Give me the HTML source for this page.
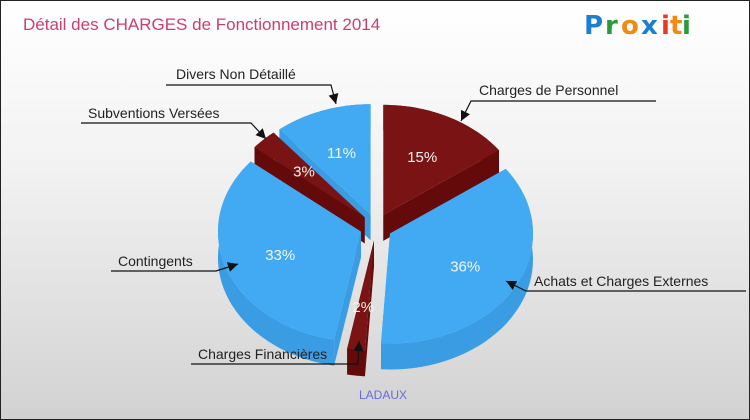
<!DOCTYPE html>
<html><head><meta charset="utf-8"><style>
body{margin:0;}
#c{width:748px;height:418px;border:1px solid #222;position:relative;background:linear-gradient(#ffffff,#f2f2f2 40%,#d2d2d2);overflow:hidden;font-family:"Liberation Sans",sans-serif;}
svg{position:absolute;left:0;top:0;}
</style></head><body>
<div id="c">
<svg id="s" width="748" height="418">
<text x="22" y="29" font-size="17" fill="#cc3d72">Détail des CHARGES de Fonctionnement 2014</text>
<g font-size="26" font-weight="bold" font-family="'DejaVu Sans',sans-serif">
<text x="583" y="33" fill="#1e7fd0">P</text><text x="604" y="33" fill="#2a9a3a">r</text><text x="620" y="33" fill="#f08a10">o</text><text x="640" y="33" fill="#1e7fd0">x</text><text x="660" y="33" fill="#e83a20">i</text><text x="669" y="33" fill="#f08a10">t</text><text x="681" y="33" fill="#2a9a3a">i</text>
</g>
<text x="382" y="398" font-size="12" fill="#6a6ae0" text-anchor="middle">LADAUX</text>
<g id="pie"></g>
<g id="lab" font-size="14" fill="#222"></g>
</svg>
</div>
<script>
const categories=["Charges de Personnel","Achats et Charges Externes","Charges Financières","Contingents","Subventions Versées","Divers Non Détaillé"];
const values=[15,36,2,33,3,11];
const colorsTop=["#7a1414","#42aaf2","#7a1414","#42aaf2","#7a1414","#42aaf2"];
const colorsSide=["#650a0a","#3a9ce2","#650a0a","#3a9ce2","#650a0a","#3a9ce2"];
const cx=375,cy=226,rx=143,ry=110,depth=26,ex=16;
const NS="http://www.w3.org/2000/svg";
const pie=document.getElementById('pie');
const total=values.reduce((a,b)=>a+b,0);
let a=-Math.PI/2;
const sl=values.map((v,i)=>{const a1=a,a2=a+v/total*2*Math.PI;a=a2;const m=(a1+a2)/2;return{i,a1,a2,m,ox:cx+ex*Math.cos(m),oy:cy+ex*Math.sin(m)*0.85};});
function pt(s,t,dy){return[s.ox+rx*Math.cos(t),s.oy+ry*Math.sin(t)+dy];}
function arc(s,t1,t2,dy){let d='';const n=40;for(let k=0;k<=n;k++){const t=t1+(t2-t1)*k/n;const p=pt(s,t,dy);d+=(k?'L':'')+p[0].toFixed(1)+','+p[1].toFixed(1)+' ';}return d;}
function mk(d,fill,name){const p=document.createElementNS(NS,'path');p.setAttribute('d',d);p.setAttribute('fill',fill);


pie.appendChild(p);}
const order=[...sl].sort((p,q)=>Math.sin(p.m)-Math.sin(q.m));
order.forEach(s=>{
 const c=colorsSide[s.i];
 [s.a1,s.a2].forEach(t=>{const p=pt(s,t,0);mk(`M${s.ox},${s.oy} L${p[0]},${p[1]} L${p[0]},${p[1]+depth} L${s.ox},${s.oy+depth}Z`,c,'slice-side');});
 mk('M'+arc(s,s.a1,s.a2,0)+'L'+arc(s,s.a2,s.a1,depth)+'Z',c,'slice-wall');
 mk(`M${s.ox},${s.oy} L`+arc(s,s.a1,s.a2,0)+'Z',colorsTop[s.i],'slice-'+categories[s.i].toLowerCase().replace(/[^a-z]+/g,'-'));
});
sl.forEach(s=>{const r=0.6;const t=document.createElementNS(NS,'text');
 const x=s.ox+rx*r*Math.cos(s.m),y=s.oy+ry*r*Math.sin(s.m);
 t.setAttribute('x',x);t.setAttribute('y',y+6);t.setAttribute('text-anchor','middle');t.setAttribute('font-size','15');t.setAttribute('fill','#f4f4f4');
 t.textContent=values[s.i]+'%';
 
 
 pie.appendChild(t);});
const labels=[
 {i:0,tx:478,ty:94,l:[[655,100],[470,100],[460,120]]},
 {i:1,tx:533,ty:285,l:[[745,290],[525,290],[505,280]]},
 {i:2,tx:197,ty:358,l:[[190,363],[357,363],[358,340]]},
 {i:3,tx:117,ty:265,l:[[110,270],[215,270],[237,263]]},
 {i:4,tx:87,ty:117,l:[[80,122],[250,122],[265,138]]},
 {i:5,tx:175,ty:78,l:[[165,84],[330,84],[335,103]]}];
const lab=document.getElementById('lab');
labels.forEach(L=>{const t=document.createElementNS(NS,'text');t.setAttribute('x',L.tx);t.setAttribute('y',L.ty);t.textContent=categories[L.i];
 
 
 lab.appendChild(t);
 const pl=document.createElementNS(NS,'polyline');pl.setAttribute('points',L.l.map(p=>p.join(',')).join(' '));pl.setAttribute('fill','none');pl.setAttribute('stroke','#111');pl.setAttribute('stroke-width','1.2');
 
 
 lab.appendChild(pl);
 const p1=L.l[1],p2=L.l[2];const ang=Math.atan2(p2[1]-p1[1],p2[0]-p1[0]);
 const h=10,w=5;const bx=p2[0]-h*Math.cos(ang),by=p2[1]-h*Math.sin(ang);
 const ar=document.createElementNS(NS,'path');
 ar.setAttribute('d',`M${p2[0]},${p2[1]} L${bx-w*Math.sin(ang)},${by+w*Math.cos(ang)} L${bx+w*Math.sin(ang)},${by-w*Math.cos(ang)}Z`);ar.setAttribute('fill','#111');
 
 
 lab.appendChild(ar);});
</script>
</body></html>
